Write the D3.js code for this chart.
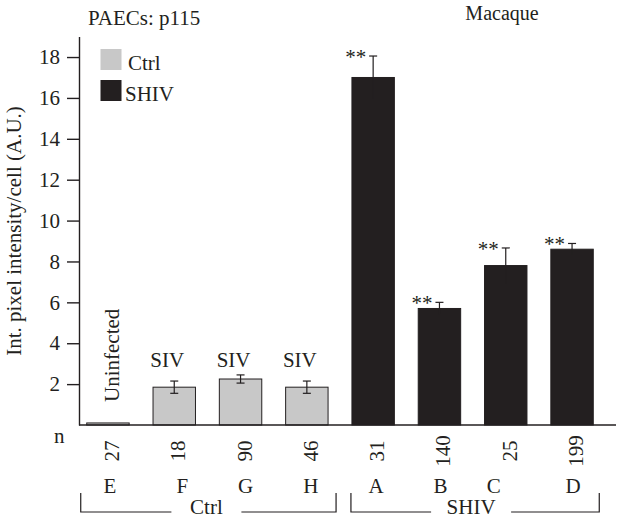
<!DOCTYPE html>
<html>
<head>
<meta charset="utf-8">
<script src="https://cdn.jsdelivr.net/npm/d3@7"></script>
<style>
  html, body { margin: 0; padding: 0; background: #fff; }
  svg { display: block; }
  svg text { font-family: "Liberation Serif", "Times New Roman", serif !important; fill: #231f20; }
</style>
</head>
<body>
<div id="chart"></div>
<script>
// ---- data ----
const categories = ["E", "F", "G", "H", "A", "B", "C", "D"];
const groups = ["Ctrl", "Ctrl", "Ctrl", "Ctrl", "SHIV", "SHIV", "SHIV", "SHIV"];
const values = [0.1, 1.85, 2.25, 1.85, 17.0, 5.7, 7.8, 8.6];
const errors = [0, 0.3, 0.2, 0.3, 1.05, 0.3, 0.86, 0.28];
const nCounts = ["27", "18", "90", "46", "31", "140", "25", "199"];
const barLabels = ["Uninfected", "SIV", "SIV", "SIV", "", "", "", ""];
const significance = ["", "", "", "", "**", "**", "**", "**"];
const yTicks = [2, 4, 6, 8, 10, 12, 14, 16, 18];
const legendItems = ["Ctrl", "SHIV"];
const groupNames = ["Ctrl", "SHIV"];

// ---- layout ----
const W = 618, H = 519;
const FONT = "'Liberation Serif', 'Times New Roman', serif";
const colors = { Ctrl: "#c8c8c8", SHIV: "#231f20" };
const ink = "#231f20";
const fs = 21;

const svg = d3.select("#chart").append("svg").attr("width", W).attr("height", H)
  .attr("font-family", FONT);

const x = d3.scaleBand().domain(categories).range([74.8, 605.2]).paddingInner(0.36).paddingOuter(0.18);
const y = d3.scaleLinear().domain([0, 19]).range([425, 36.6]);
const cx = c => x(c) + x.bandwidth() / 2;

// y axis
const yAxis = d3.axisLeft(y).tickValues(yTicks).tickSize(12).tickSizeOuter(0).tickPadding(7);
const gy = svg.append("g").attr("transform", "translate(79,0)").call(yAxis)
  .attr("font-family", FONT).attr("font-size", fs);
gy.select(".domain").attr("stroke", ink).attr("stroke-width", 1.4);
gy.selectAll(".tick line").attr("stroke", ink).attr("stroke-width", 1.4);
gy.selectAll(".tick text").attr("font-family", FONT).attr("font-size", fs).attr("fill", ink);

// bars
const data = categories.map((c, i) => ({ c, g: groups[i], v: values[i], e: errors[i], n: nCounts[i], lab: barLabels[i], sig: significance[i] }));

svg.append("g").selectAll("rect").data(data).join("rect")
  .attr("x", d => x(d.c))
  .attr("width", x.bandwidth())
  .attr("y", d => y(d.v))
  .attr("height", d => y(0) - y(d.v))
  .attr("fill", d => colors[d.g])
  .attr("stroke", ink).attr("stroke-width", 1);

// x axis line
svg.append("line").attr("x1", 79).attr("x2", 616).attr("y1", y(0)).attr("y2", y(0))
  .attr("stroke", ink).attr("stroke-width", 1.4);

// error bars
const eb = svg.append("g").selectAll("g").data(data.filter(d => d.e > 0)).join("g");
eb.append("line").attr("x1", d => cx(d.c)).attr("x2", d => cx(d.c))
  .attr("y1", d => y(d.v - d.e)).attr("y2", d => y(d.v + d.e)).attr("stroke", ink).attr("stroke-width", 1.2);
eb.append("line").attr("x1", d => cx(d.c) - 4).attr("x2", d => cx(d.c) + 4)
  .attr("y1", d => y(d.v + d.e)).attr("y2", d => y(d.v + d.e)).attr("stroke", ink).attr("stroke-width", 1.2);
eb.filter(d => d.g === "Ctrl").append("line").attr("x1", d => cx(d.c) - 4).attr("x2", d => cx(d.c) + 4)
  .attr("y1", d => y(d.v - d.e)).attr("y2", d => y(d.v - d.e)).attr("stroke", ink).attr("stroke-width", 1.2);

// significance
svg.append("g").selectAll("text").data(data.filter(d => d.sig)).join("text")
  .attr("x", d => cx(d.c) - 7)
  .attr("y", d => y(d.v + d.e) + 8)
  .attr("text-anchor", "end")
  .attr("font-size", fs)
  .text(d => d.sig);

// bar labels: SIV (horizontal) and Uninfected (vertical)
svg.append("g").selectAll("text").data(data.filter(d => d.lab === "SIV")).join("text")
  .attr("x", d => cx(d.c) - 7)
  .attr("y", 367)
  .attr("text-anchor", "middle")
  .attr("font-size", fs)
  .text(d => d.lab);
svg.append("g").selectAll("text").data(data.filter(d => d.lab === "Uninfected")).join("text")
  .attr("transform", d => `translate(${cx(d.c) + 11},402) rotate(-90)`)
  .attr("text-anchor", "start")
  .attr("font-size", fs)
  .text(d => d.lab);

// n row
svg.append("text").attr("x", 54).attr("y", 443).attr("font-size", fs).text("n");
svg.append("g").selectAll("text").data(data).join("text")
  .attr("transform", d => `translate(${cx(d.c) + 11},451) rotate(-90)`)
  .attr("text-anchor", "middle")
  .attr("font-size", fs)
  .text(d => d.n);

// category letters
const letterNudge = [2, 8, 5, 4, 3, 1, -12, 1];
svg.append("g").selectAll("text").data(data).join("text")
  .attr("x", (d, i) => cx(d.c) + letterNudge[i])
  .attr("y", 493)
  .attr("text-anchor", "middle")
  .attr("font-size", fs)
  .text(d => d.c);

// group brackets
groupNames.forEach(gname => {
  const cats = data.filter(d => d.g === gname);
  const x0 = x(cats[0].c) - 18 + (gname === "SHIV" ? 17 : 12);
  const x1 = x(cats[cats.length - 1].c) + x.bandwidth() + (gname === "SHIV" ? 6 : 8);
  const mid = (x0 + x1) / 2 - (gname === "SHIV" ? 4 : 2);
  const tw = gname === "SHIV" ? 80 : 70;
  const b = svg.append("g").attr("stroke", ink).attr("stroke-width", 1.2).attr("fill", "none");
  b.append("path").attr("d", `M${x0},493V512H${mid - tw / 2}`);
  b.append("path").attr("d", `M${mid + tw / 2},512H${x1}V493`);
  svg.append("text").attr("x", mid).attr("y", 514).attr("text-anchor", "middle")
    .attr("font-size", fs).text(gname);
});

// legend
const lg = svg.append("g");
legendItems.forEach((name, i) => {
  lg.append("rect").attr("x", 100.5).attr("y", 49 + i * 31).attr("width", 21).attr("height", 21)
    .attr("fill", colors[name]);
  lg.append("text").attr("x", name === "Ctrl" ? 128 : 125).attr("y", 70 + i * 31)
    .attr("font-size", fs).text(name);
});

// titles
svg.append("text").attr("x", 88).attr("y", 25).attr("font-size", fs).text("PAECs: p115");
svg.append("text").attr("x", 502).attr("y", 20).attr("text-anchor", "middle").attr("font-size", 20).text("Macaque");
svg.append("text").attr("transform", "translate(21,231) rotate(-90)").attr("text-anchor", "middle")
  .attr("font-size", fs).text("Int. pixel intensity/cell (A.U.)");
</script>
</body>
</html>
